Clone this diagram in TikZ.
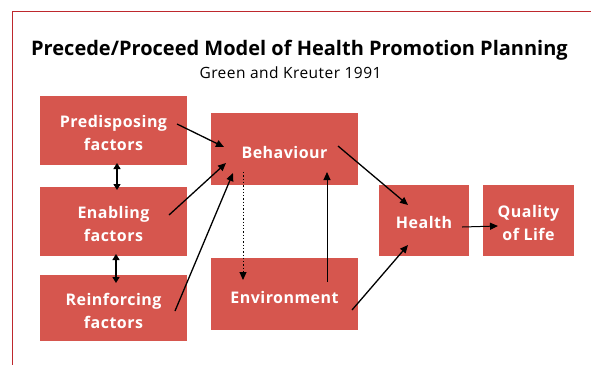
\documentclass[tikz,border=0pt]{standalone}
\usepackage{fontspec}
\setmainfont{Open Sans}
\usetikzlibrary{arrows.meta}
\definecolor{boxred}{RGB}{214,86,78}
\definecolor{framered}{RGB}{190,40,45}
\begin{document}
\begin{tikzpicture}[x=1pt,y=-1pt,
  stage/.style={fill=boxred, draw=none, inner sep=0pt},
  caption/.style={text=white, align=center, inner sep=0pt,
    font=\bfseries\fontsize{16}{23}\selectfont\addfontfeature{LetterSpace=3}},
  link/.style={-{Triangle[length=8pt,width=7pt]}, line width=1.3pt, black},
  twoway/.style={{Triangle[length=6pt,width=7pt]}-{Triangle[length=6pt,width=7pt]}, line width=1.3pt, black}]
\useasboundingbox (0,0) rectangle (591,365);
% frame lines along the top and left
\draw[framered, line width=1pt] (591,11) -- (12.5,11) -- (12.5,365);
% headings
\node (title) at (299.5,50) {\bfseries\fontsize{20}{22}\selectfont Precede/Proceed Model of Health Promotion Planning};
\node (sub) at (290.5,73) {\fontsize{15.5}{17}\selectfont\addfontfeature{LetterSpace=3} Green and Kreuter 1991};
% stage boxes
\node[stage, minimum width=147pt, minimum height=69pt] (pre) at (113.5,130) {};
\node[stage, minimum width=147pt, minimum height=69pt] (ena) at (113.5,221) {};
\node[stage, minimum width=147pt, minimum height=66pt] (rei) at (113.5,308) {};
\node[stage, minimum width=147pt, minimum height=72pt] (beh) at (284.5,149) {};
\node[stage, minimum width=147pt, minimum height=72pt] (env) at (284.5,294) {};
\node[stage, minimum width=90pt, minimum height=71pt] (hea) at (424,220.5) {};
\node[stage, minimum width=91pt, minimum height=71pt] (qol) at (528.5,220.5) {};
% box texts, set a little below the box centres
\node[caption] (preT) at ([yshift=-3pt]pre.center) {Predisposing\\factors};
\node[caption] (enaT) at ([yshift=-3pt]ena.center) {Enabling\\factors};
\node[caption] (reiT) at ([yshift=-3pt]rei.center) {Reinforcing\\factors};
\node[caption] (behT) at ([yshift=-3pt]beh.center) {Behaviour};
\node[caption] (envT) at ([yshift=-3pt]env.center) {Environment};
\node[caption] (heaT) at ([yshift=-2pt]hea.center) {Health};
\node[caption] (qolT) at ([yshift=-2pt]qol.center) {Quality\\of Life};
% connectors
\draw[link] (177,124) -- (224,147);
\draw[link] (169,215) -- (226,163);
\draw[link] (175,311) -- (233,173);
\draw[twoway] (117,163) -- (117,190);
\draw[twoway] (116,254) -- (116,283);
\draw[link, dotted, line width=1pt] (243,172) -- (243,280);
\draw[link, line width=1pt] (327,282) -- (327,172);
\draw[link] (338,146) -- (408,205);
\draw[link] (352,310) -- (408,245);
\draw[link, line width=1pt] (462,227) -- (498,226);
\end{tikzpicture}
\end{document}
